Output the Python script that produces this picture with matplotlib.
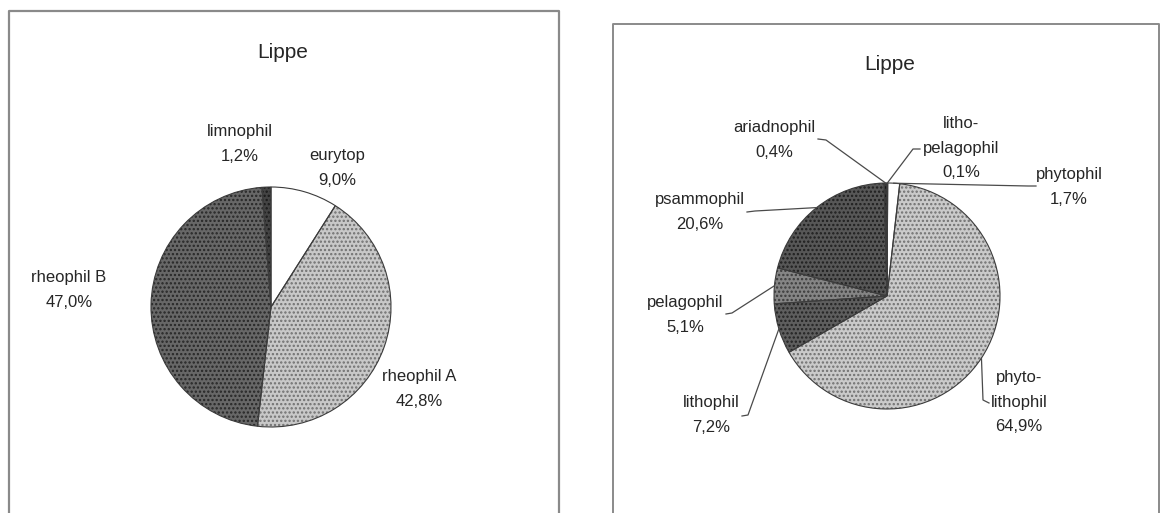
import matplotlib
matplotlib.use("Agg")
import matplotlib.pyplot as plt
import numpy as np

W, H = 1163, 513

# Lippe - flow preference guilds
flow_names = ["eurytop", "rheophil A", "rheophil B", "limnophil"]
flow_values = [9.0, 42.8, 47.0, 1.2]

# Lippe - reproductive guilds
repro_names = ["litho-\npelagophil", "phytophil", "phyto-\nlithophil", "lithophil",
               "pelagophil", "psammophil", "ariadnophil"]
repro_values = [0.1, 1.7, 64.9, 7.2, 5.1, 20.6, 0.4]

FONT = ["Liberation Sans Narrow", "Liberation Sans", "DejaVu Sans"]
plt.rcParams["font.family"] = FONT
plt.rcParams["hatch.linewidth"] = 1.1

fig = plt.figure(figsize=(W / 100, H / 100), dpi=100)
ax = fig.add_axes([0, 0, 1, 1])


def Y(y):
    # image rows run downward, axes y runs upward
    return H - y


def label_text(name, value):
    return "%s\n%s%%" % (name, ("%.1f" % value).replace(".", ","))


def draw_pie(values, center, radius, fills):
    face = [f[0] for f in fills]
    dots = [f[1] for f in fills]
    wedges, _ = ax.pie(values, center=(center[0], Y(center[1])), radius=radius,
                       startangle=90, counterclock=False, colors=face,
                       wedgeprops=dict(linewidth=0))
    for w, d in zip(wedges, dots):
        if d is not None:
            w.set_hatch("....")
            w.set_edgecolor(d)
    # outlines on top of the dot fill
    ax.pie(values, center=(center[0], Y(center[1])), radius=radius,
           startangle=90, counterclock=False, colors=["none"] * len(values),
           wedgeprops=dict(linewidth=0.8, edgecolor="#3c3c3c"))
    return wedges


def edge_point(w):
    ang = np.deg2rad((w.theta1 + w.theta2) / 2)
    return w.center[0] + w.r * np.cos(ang), w.center[1] + w.r * np.sin(ang)


# frames around both charts (bottom edges run off the page)
ax.plot([9, 9, 559, 559], [0, Y(11), Y(11), 0], color="#8a8a8a", lw=1.6)
ax.plot([613, 613, 1159, 1159], [0, Y(24), Y(24), 0], color="#8a8a8a", lw=1.4)

txt = dict(ha="center", va="center", fontsize=12, color="#262626", linespacing=1.8)

# ---- left pie
flow_fills = [("#ffffff", None), ("#c8c8c8", "#707070"), ("#676767", "#262626"),
              ("#444444", "#1a1a1a")]
draw_pie(flow_values, (271, 307), 120, flow_fills)
ax.text(283, Y(53), "Lippe", ha="center", va="center", fontsize=15, color="#262626")
flow_pos = [(337, 168), (419, 389), (69, 290), (240, 144)]
for name, v, (x, y) in zip(flow_names, flow_values, flow_pos):
    ax.text(x, Y(y), label_text(name, v), **txt)

# ---- right pie
repro_fills = [("#333333", None), ("#ffffff", None), ("#cacaca", "#707070"),
               ("#5e5e5e", "#222222"), ("#858585", "#3a3a3a"), ("#575757", "#1e1e1e"),
               ("#383838", "#121212")]
rw = draw_pie(repro_values, (887, 296), 113, repro_fills)
ax.text(890, Y(65), "Lippe", ha="center", va="center", fontsize=15, color="#262626")

repro_pos = [(961, 148), (1069, 187), (1019, 402), (711, 415), (685, 315),
             (700, 212), (774, 140)]
# where each leader line meets its label: elbow, then a short horizontal tick
repro_elbow = [((913, 149), (920, 149)), ((1028, 186), (1036, 186)),
               ((983, 400), (989, 403)), ((748, 415), (742, 416)),
               ((732, 313), (726, 314)), ((755, 211), (747, 212)),
               ((826, 140), (818, 139))]
for name, v, (x, y), w, (elb, tick) in zip(repro_names, repro_values, repro_pos, rw, repro_elbow):
    ax.text(x, Y(y), label_text(name, v), **txt)
    ex, ey = edge_point(w)
    ax.plot([ex, elb[0], tick[0]], [ey, Y(elb[1]), Y(tick[1])], color="#4a4a4a", lw=0.9)

ax.set_xlim(0, W)
ax.set_ylim(0, H)
ax.set_aspect("auto")
ax.axis("off")

fig.savefig("out.png", dpi=100, facecolor="white")
